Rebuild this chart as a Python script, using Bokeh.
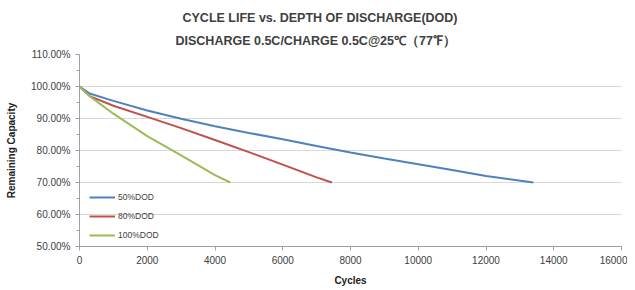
from bokeh.plotting import figure
from bokeh.models import Title, Legend, LegendItem, NumeralTickFormatter, FixedTicker, Range1d
from bokeh.embed import file_html
from bokeh.resources import INLINE

title1 = "CYCLE LIFE vs. DEPTH OF DISCHARGE(DOD)"
title2 = "DISCHARGE 0.5C/CHARGE 0.5C@25\u2103\uff0877\u2109\uff09"
x_label = "Cycles"
y_label = "Remaining Capacity"

series_names = ["50%DOD", "80%DOD", "100%DOD"]
colors = ["#4F81BD", "#C0504D", "#9BBB59"]

cycles_50 = [0, 300, 1000, 2000, 3000, 4000, 5000, 6000, 7000, 8000, 9000, 10000, 11000, 12000, 13400]
cap_50 = [1.00, 0.978, 0.955, 0.925, 0.899, 0.876, 0.855, 0.835, 0.814, 0.794, 0.775, 0.757, 0.739, 0.720, 0.700]

cycles_80 = [0, 300, 1000, 2000, 3000, 4000, 5000, 6000, 7000, 7450]
cap_80 = [1.00, 0.970, 0.940, 0.905, 0.870, 0.833, 0.795, 0.756, 0.716, 0.700]

cycles_100 = [0, 300, 1000, 2000, 3000, 4000, 4450]
cap_100 = [1.00, 0.970, 0.915, 0.845, 0.785, 0.723, 0.700]

x_ticks = [0, 2000, 4000, 6000, 8000, 10000, 12000, 14000, 16000]
y_ticks = [0.5, 0.6, 0.7, 0.8, 0.9, 1.0, 1.1]

FONT = "Liberation Sans"

p = figure(width=627, height=288, output_backend="svg", toolbar_location=None,
           x_range=Range1d(0, 16000), y_range=Range1d(0.5, 1.1),
           min_border_left=79, min_border_right=6, min_border_top=54, min_border_bottom=41)
p.outline_line_color = None
p.background_fill_color = "white"

renderers = []
for xs, ys, c in zip([cycles_50, cycles_80, cycles_100], [cap_50, cap_80, cap_100], colors):
    r = p.line(xs, ys, line_color=c, line_width=2)
    renderers.append(r)

legend = Legend(items=[LegendItem(label=n, renderers=[r]) for n, r in zip(series_names, renderers)],
                location=(10, 6), label_text_font=FONT, label_text_font_size="8.5px",
                label_text_color="#404040", glyph_width=26, glyph_height=10, spacing=9,
                border_line_color=None, background_fill_alpha=0, padding=4, label_standoff=3)
p.add_layout(legend, "center")

p.xaxis.ticker = FixedTicker(ticks=x_ticks)
p.yaxis.ticker = FixedTicker(ticks=y_ticks, minor_ticks=[0.55, 0.65, 0.75, 0.85, 0.95, 1.05])
p.yaxis.formatter = NumeralTickFormatter(format="0.00%")
for ax in [p.xaxis[0], p.yaxis[0]]:
    ax.axis_line_color = "#A0A0A0"
    ax.major_tick_line_color = "#A0A0A0"
    ax.minor_tick_line_color = "#A0A0A0"
    ax.major_tick_in = 0
    ax.major_tick_out = 4
    ax.minor_tick_in = 0
    ax.minor_tick_out = 3
    ax.major_label_text_font = FONT
    ax.major_label_text_font_size = "10px"
    ax.major_label_text_color = "#404040"
    ax.axis_label_text_font = FONT
    ax.axis_label_text_font_size = "10px"
    ax.axis_label_text_font_style = "bold"
    ax.axis_label_text_color = "#202020"
p.xaxis.minor_tick_line_color = None
p.xaxis.axis_label = x_label
p.yaxis.axis_label = y_label
p.xaxis.axis_label_standoff = 8
p.yaxis.axis_label_standoff = 11

p.xgrid.grid_line_color = None
p.ygrid.grid_line_color = "#D9D9D9"

t2 = Title(text=title2, align="left", offset=96, text_font=FONT, text_font_size="12.5px",
           text_font_style="bold", text_color="#404040", standoff=14)
t1 = Title(text=title1, align="left", offset=103, text_font=FONT, text_font_size="12.5px",
           text_font_style="bold", text_color="#404040", standoff=0)
p.add_layout(t2, "above")
p.add_layout(t1, "above")

open("out.html", "w").write(file_html(p, INLINE))
